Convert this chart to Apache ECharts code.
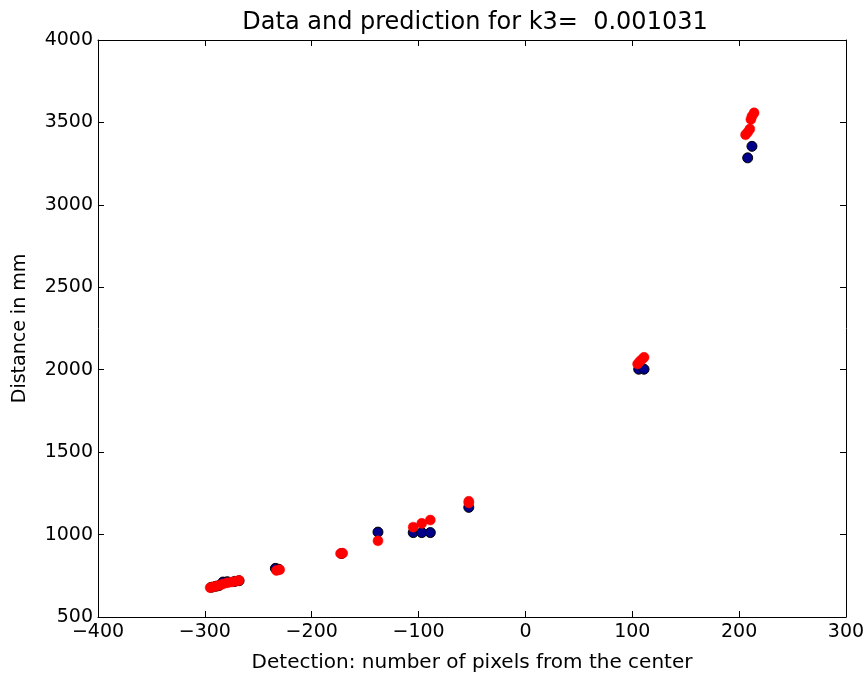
<!DOCTYPE html>
<html lang="en">
<head>
    <meta charset="UTF-8">
    <title>Data and prediction</title>
    <script src="https://cdn.jsdelivr.net/npm/echarts@6/dist/echarts.min.js"></script>
    <style>
        body { margin: 0; background: #fff; }
    </style>
</head>
<body>
<div id="main" style="width: 866px;height:673px;"></div>
<script type="text/javascript">
    // measured data (blue) and prediction (red)
    var dataX = [-294, -290, -287, -283, -279, -272, -268, -234, -231, -172, -138, -105, -97, -89, -53, 106, 111, 208, 212];
    var dataY = [680, 686, 690, 712, 714, 716, 720, 795, 790, 885, 1015, 1012, 1012, 1012, 1165, 2003, 2003, 3285, 3355];
    var predX = [-295, -292, -289, -286, -283, -279, -275, -271, -268, -233, -230, -173, -171, -138, -105, -97, -89, -53, -53, 105, 107, 109, 111, 206, 208, 210, 211, 212, 214];
    var predY = [678, 683, 688, 693, 700, 707, 712, 717, 722, 782, 787, 885, 887, 962, 1045, 1068, 1088, 1192, 1202, 2035, 2050, 2062, 2075, 3425, 3440, 3460, 3518, 3538, 3558];
    var xTicks = [-400, 300, 100];
    var yTicks = [500, 4000, 500];

    var font = 'DejaVu Sans';
    function plain(v) { return String(v).replace('-', '\u2212'); }
    function pairs(xs, ys) {
        var out = [];
        for (var i = 0; i < xs.length; i++) out.push([xs[i], ys[i]]);
        return out;
    }

    var myChart = echarts.init(document.getElementById('main'));
    var axisLine = { show: true, onZero: false, lineStyle: { color: '#000', width: 1 } };
    var tick = { show: true, inside: true, length: 6, lineStyle: { color: '#000' } };

    var option = {
        animation: false,
        backgroundColor: '#fff',
        title: {
            text: 'Data and prediction for k3=  0.001031',
            left: 470, top: 6, textAlign: 'center',
            textStyle: { fontFamily: font, fontSize: 24, fontWeight: 'normal', color: '#000' }
        },
        grid: { left: 98, right: 20, top: 40, bottom: 56, outerBoundsMode: 'none' },
        xAxis: [{
            type: 'value', min: xTicks[0], max: xTicks[1], interval: xTicks[2],
            name: 'Detection: number of pixels from the center',
            nameLocation: 'middle', nameGap: 36,
            nameTextStyle: { fontFamily: font, fontSize: 20, color: '#000' },
            axisLine: axisLine, axisTick: tick, splitLine: { show: false },
            axisLabel: { fontFamily: font, fontSize: 19, color: '#000', margin: 6, formatter: plain }
        }, {
            type: 'value', position: 'top', min: xTicks[0], max: xTicks[1], interval: xTicks[2],
            axisLine: axisLine, axisTick: tick, splitLine: { show: false }, axisLabel: { show: false }
        }],
        yAxis: [{
            type: 'value', min: yTicks[0], max: yTicks[1], interval: yTicks[2],
            name: 'Distance in mm', nameLocation: 'middle', nameGap: 68,
            nameTextStyle: { fontFamily: font, fontSize: 19, color: '#000' },
            axisLine: axisLine, axisTick: tick, splitLine: { show: false },
            axisLabel: { fontFamily: font, fontSize: 19, color: '#000', margin: 5, formatter: plain }
        }, {
            type: 'value', position: 'right', min: yTicks[0], max: yTicks[1], interval: yTicks[2],
            axisLine: axisLine, axisTick: tick, splitLine: { show: false }, axisLabel: { show: false }
        }],
        series: [{
            type: 'scatter', data: pairs(dataX, dataY), symbolSize: 10,
            itemStyle: { color: '#00008b', borderColor: '#000', borderWidth: 1, opacity: 1 }
        }, {
            type: 'scatter', data: pairs(predX, predY), symbolSize: 10,
            itemStyle: { color: '#ff0000', borderColor: '#ff0000', borderWidth: 0.5, opacity: 1 }
        }]
    };

    myChart.setOption(option);
</script>
</body>
</html>
